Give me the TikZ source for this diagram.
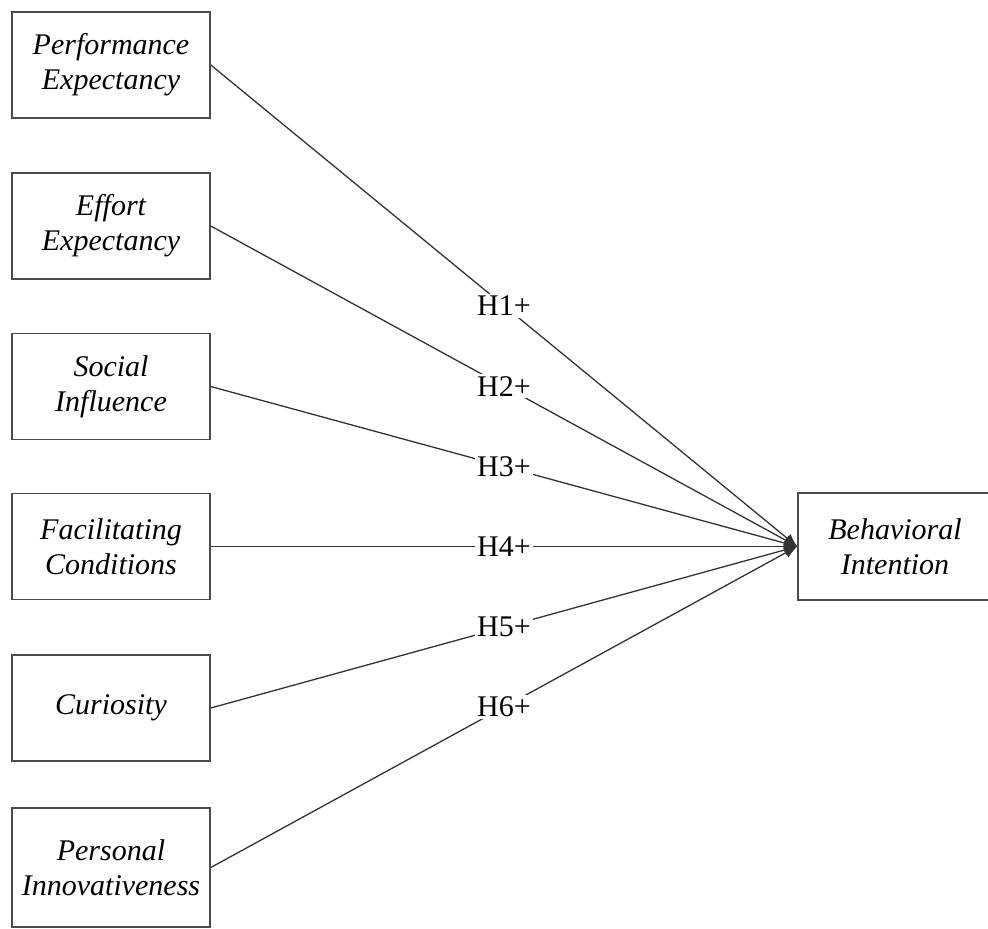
\documentclass[tikz,border=0pt]{standalone}
\usepackage{fontspec}
\setmainfont{Liberation Serif}
\usetikzlibrary{arrows.meta}
\begin{document}
\begin{tikzpicture}[x=1pt,y=-1pt,
  construct/.style={draw=black!70,line width=1.6pt,fill=white,minimum width=198pt,
    minimum height=106pt,align=center,inner sep=0pt,
    font=\fontsize{30}{35}\selectfont\itshape},
  path/.style={draw=black!80,line width=1.3pt,-{Latex[length=13pt,width=11pt]}},
  hyp/.style={fill=white,inner sep=2pt,font=\fontsize{30}{35}\selectfont}]
\useasboundingbox (0,0) rectangle (988,929);
\node[construct] (pe) at (111,65) {Performance\\Expectancy};
\node[construct] (ee) at (111,226) {Effort\\Expectancy};
\node[construct] (si) at (111,386.5) {Social\\Influence};
\node[construct] (fc) at (111,546.5) {Facilitating\\Conditions};
\node[construct] (cu) at (111,708) {Curiosity};
\node[construct,minimum height=119pt] (pi) at (111,867.5) {Personal\\Innovativeness};
\node[construct,minimum width=194pt,minimum height=107pt] (bi) at (895,546.5) {Behavioral\\Intention};
\draw[path] (pe.east) -- node[hyp,pos=0.5] {H1+} (bi.west);
\draw[path] (ee.east) -- node[hyp,pos=0.5] {H2+} (bi.west);
\draw[path] (si.east) -- node[hyp,pos=0.5] {H3+} (bi.west);
\draw[path] (fc.east) -- node[hyp,pos=0.5] {H4+} (bi.west);
\draw[path] (cu.east) -- node[hyp,pos=0.5] {H5+} (bi.west);
\draw[path] (pi.east) -- node[hyp,pos=0.5] {H6+} (bi.west);
\end{tikzpicture}
\end{document}
